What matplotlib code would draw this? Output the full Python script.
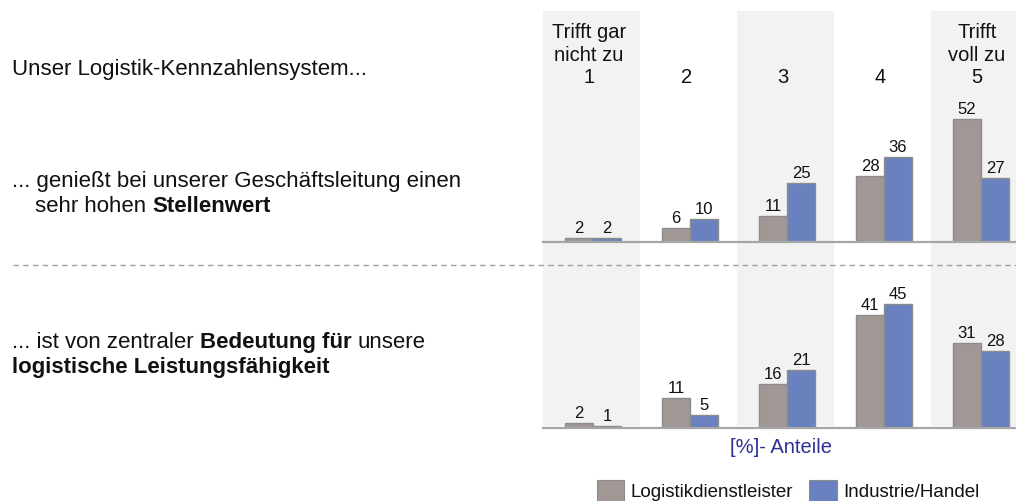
import matplotlib
matplotlib.use("Agg")
import matplotlib.pyplot as plt
import numpy as np
from matplotlib.transforms import IdentityTransform, blended_transform_factory
from matplotlib.patches import Rectangle
from matplotlib.lines import Line2D

# ---------------- data ----------------
categories = ["1", "2", "3", "4", "5"]
header_labels = ["Trifft gar\nnicht zu\n1", "2", "3", "4", "Trifft\nvoll zu\n5"]
series_names = ["Logistikdienstleister", "Industrie/Handel"]
top_logistik = [2, 6, 11, 28, 52]
top_industrie = [2, 10, 25, 36, 27]
bottom_logistik = [2, 11, 16, 41, 31]
bottom_industrie = [1, 5, 21, 45, 28]
intro_text = "Unser Logistik-Kennzahlensystem..."
statement_top = [[("... genießt bei unserer Geschäftsleitung einen", False)],
                 [("sehr hohen", False), ("Stellenwert", True)]]
statement_bottom = [[("... ist von zentraler", False), ("Bedeutung für", True), ("unsere", False)],
                    [("logistische Leistungsfähigkeit", True)]]
axis_label = "[%]- Anteile"

# ---------------- style ----------------
FONT = "Liberation Sans"
plt.rcParams["font.family"] = [FONT, "DejaVu Sans"]
C_GRAY = "#A19896"
C_BLUE = "#6981BF"
C_EDGE = "#8C8C8C"
C_SHADE = "#F2F2F2"
C_BASE = "#A6A6A6"
C_LABEL = "#2E3192"

W, H = 1016, 501
fig = plt.figure(figsize=(W / 100, H / 100), dpi=100)


def fa(x0, y0, x1, y1):
    """axes rect from pixel coords measured from the top-left"""
    return [x0 / W, 1 - y1 / H, (x1 - x0) / W, (y1 - y0) / H]


X0, PITCH = 593.0, 97.0
AX_L, AX_R = 530, 1016
xlim = ((AX_L - X0) / PITCH, (AX_R - X0) / PITCH)
x = np.arange(len(categories))
bw = 28.0 / PITCH

# background shading
axbg = fig.add_axes(fa(AX_L, 11, AX_R, 426))
axbg.set_xlim(*xlim)
axbg.set_ylim(0, 1)
for i in (0, 2, 4):
    axbg.axvspan(i - 0.5 - 0.02, i + 0.5 - 0.02, color=C_SHADE, lw=0)
axbg.axis("off")


def panel(rect, ymax, vals_a, vals_b):
    ax = fig.add_axes(rect)
    ax.patch.set_alpha(0)
    ax.set_xlim(*xlim)
    ax.set_ylim(0, ymax)
    ax.axis("off")
    ba = ax.bar(x - bw / 2, vals_a, bw, color=C_GRAY, edgecolor=C_EDGE, lw=1, zorder=3)
    bb = ax.bar(x + bw / 2, vals_b, bw, color=C_BLUE, edgecolor=C_EDGE, lw=1, zorder=3)
    for bars, vals in ((ba, vals_a), (bb, vals_b)):
        for r, v in zip(bars, vals):
            ax.annotate(str(v), (r.get_x() + r.get_width() / 2, v), xytext=(0, 5),
                        textcoords="offset pixels", ha="center", va="baseline",
                        fontsize=12, color="#111111")
    ax.axhline(0, xmin=(543 - AX_L) / (AX_R - AX_L), xmax=1, color=C_BASE, lw=1.6,
               clip_on=False, zorder=4)
    return ax


ax_top = panel(fa(AX_L, 11, AX_R, 242.3), (242.3 - 11) / 2.377, top_logistik, top_industrie)
ax_bot = panel(fa(AX_L, 265, AX_R, 428.3), (428.3 - 265) / 2.756, bottom_logistik, bottom_industrie)

# header labels
tr = blended_transform_factory(ax_top.transData, IdentityTransform())
for i, lab in enumerate(header_labels):
    lines = lab.split("\n")
    for k, line in enumerate(reversed(lines)):
        ybase = 83.3 - 22.5 * k
        fig.text(i - 0.04, H - ybase, line, transform=tr, ha="center", va="baseline",
                 fontsize=14.5, color="#111111")

# dashed separator
fig.add_artist(Line2D([13 / W, 1], [1 - 265 / H, 1 - 265 / H], color="#A0A0A0", lw=1,
                      ls=(0, (4, 3))))

# left texts
renderer = fig.canvas.get_renderer()
LEFT_SIZE = 16


def text_px(xp, ybase, s, bold=False, size=LEFT_SIZE, color="#111111"):
    return fig.text(xp, H - ybase, s, transform=IdentityTransform(), ha="left",
                    va="baseline", fontsize=size, fontweight="bold" if bold else "normal",
                    color=color)


def rich_line(xp, ybase, parts, size=LEFT_SIZE):
    t1 = text_px(-1000, -1000, "a a", size=size)
    t2 = text_px(-1000, -1000, "aa", size=size)
    sp = t1.get_window_extent(renderer).width - t2.get_window_extent(renderer).width
    t1.remove(); t2.remove()
    cur = xp
    for j, (s, b) in enumerate(parts):
        t = text_px(cur, ybase, s, bold=b, size=size)
        cur += t.get_window_extent(renderer).width + sp


text_px(12, 75, intro_text)
rich_line(12, 186.7, statement_top[0])
rich_line(35, 211.7, statement_top[1])
rich_line(12, 348.3, statement_bottom[0])
rich_line(12, 373.3, statement_bottom[1])

# axis label
fig.text(781, H - 452.7, axis_label, transform=IdentityTransform(), ha="center",
         va="baseline", fontsize=14.5, color=C_LABEL)

# legend
for (px0, px1, tx), name, col in zip(((597, 624, 630), (809, 837, 843)), series_names,
                                     (C_GRAY, C_BLUE)):
    fig.add_artist(Rectangle((px0 / W, 0), (px1 - px0) / W, (501 - 480) / H,
                             transform=fig.transFigure, facecolor=col, edgecolor=C_EDGE, lw=0.8))
    text_px(tx, 497, name, size=13.5)

fig.savefig("out.png", dpi=100)
